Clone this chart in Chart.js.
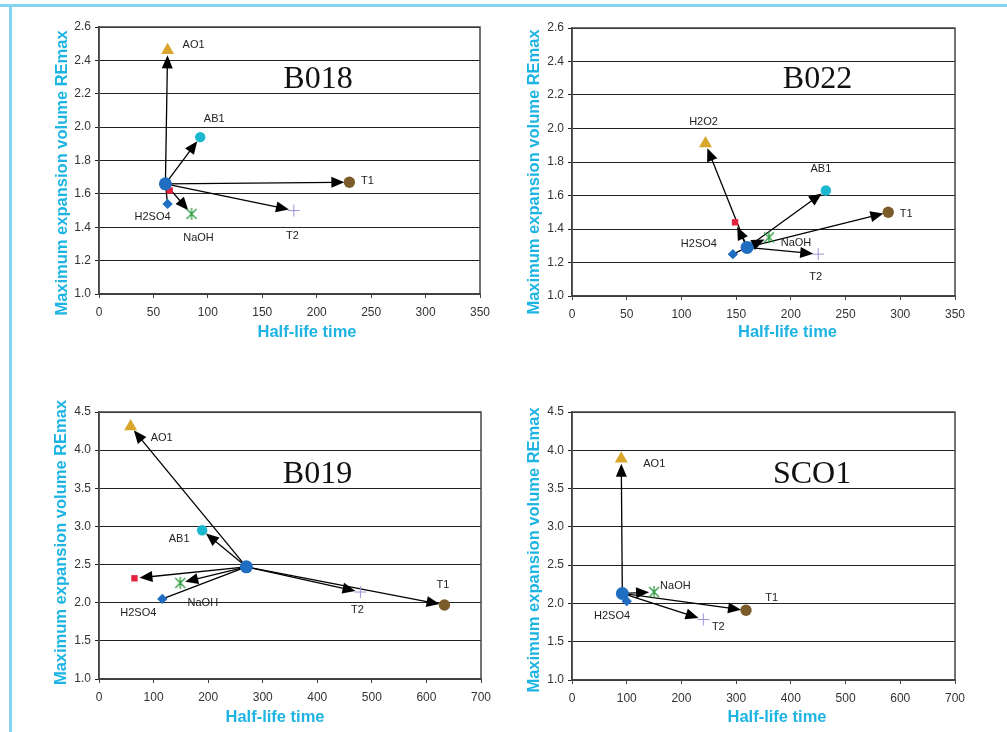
<!DOCTYPE html>
<html>
<head>
<meta charset="utf-8">
<script src="https://cdn.jsdelivr.net/npm/chart.js@4.4.1/dist/chart.umd.min.js"></script>
<style>
  body { margin: 0; background: #fff; width: 1007px; height: 732px; position: relative; overflow: hidden; }
  .panel { position: absolute; }
  #topLine { position: absolute; left: 0; top: 4px; width: 1007px; height: 3px; background: #86d3f0; }
  #leftLine { position: absolute; left: 9px; top: 4px; width: 3px; height: 728px; background: #86d3f0; }
</style>
</head>
<body>
<div id="topLine"></div>
<div id="leftLine"></div>
<canvas id="c1" class="panel" width="504" height="366" style="left:0;top:0"></canvas>
<canvas id="c2" class="panel" width="503" height="366" style="left:504px;top:0"></canvas>
<canvas id="c3" class="panel" width="504" height="366" style="left:0;top:366px"></canvas>
<canvas id="c4" class="panel" width="503" height="366" style="left:504px;top:366px"></canvas>
<script>
// Treatments, same order in every panel:
// untreated, oxidation (AO1 / H2O2), red square, AB1, T1, T2, NaOH, H2SO4
const treatments = ['untreated', 'oxid', 'red', 'AB1', 'T1', 'T2', 'NaOH', 'H2SO4'];

// B018
const b018X = [61, 63, 65, 93, 230, 179, 85, 63];
const b018Y = [1.66, 2.46, 1.62, 1.94, 1.67, 1.50, 1.48, 1.54];
const b018Labels = ['', 'AO1', '', 'AB1', 'T1', 'T2', 'NaOH', 'H2SO4'];
const b018Arrows = [0, 2, 0, 2, 2, 2, 2, 1];   // 0 none, 1 plain line, 2 arrow

// B022
const b022X = [160, 122, 149, 232, 289, 225, 180, 147];
const b022Y = [1.29, 1.91, 1.44, 1.63, 1.50, 1.25, 1.35, 1.25];
const b022Labels = ['', 'H2O2', '', 'AB1', 'T1', 'T2', 'NaOH', 'H2SO4'];
const b022Arrows = [0, 2, 2, 2, 2, 2, 2, 1];

// B019
const b019X = [270, 58, 65, 189, 633, 479, 149, 116];
const b019Y = [2.47, 4.31, 2.32, 2.95, 1.97, 2.14, 2.26, 2.05];
const b019Labels = ['', 'AO1', '', 'AB1', 'T1', 'T2', 'NaOH', 'H2SO4'];
const b019Arrows = [0, 2, 2, 2, 2, 2, 2, 1];

// SCO1
const sco1X = [92, 90, null, null, 318, 240, 150, 100];
const sco1Y = [2.13, 3.89, null, null, 1.91, 1.79, 2.15, 2.03];
const sco1Labels = ['', 'AO1', '', '', 'T1', 'T2', 'NaOH', 'H2SO4'];
const sco1Arrows = [0, 2, 0, 0, 2, 2, 2, 0];

// tick labels
const xTicksTop = [0, 50, 100, 150, 200, 250, 300, 350];
const yTicksTop = [1.0, 1.2, 1.4, 1.6, 1.8, 2.0, 2.2, 2.4, 2.6];
const xTicksBottom = [0, 100, 200, 300, 400, 500, 600, 700];
const yTicksBottom = [1.0, 1.5, 2.0, 2.5, 3.0, 3.5, 4.0, 4.5];

const xTitle = 'Half-life time';
const yTitle = 'Maximum expansion volume REmax';

// asterisk marker for NaOH
function makeStar() {
    const c = document.createElement('canvas');
    c.width = 14; c.height = 14;
    const g = c.getContext('2d');
    g.strokeStyle = '#2f9a40';
    g.lineWidth = 1.3;
    g.beginPath();
    g.moveTo(2, 2); g.lineTo(12, 12);
    g.moveTo(12, 2); g.lineTo(2, 12);
    g.moveTo(7, 1); g.lineTo(7, 13);
    g.stroke();
    return c;
}

const markerStyles = [
    { pointStyle: 'circle', pointRadius: 6.5, backgroundColor: '#1f6ec1', borderWidth: 0 },
    { pointStyle: 'triangle', pointRadius: 7.5, backgroundColor: '#d8a72c', borderWidth: 0 },
    { pointStyle: 'rect', pointRadius: 4.5, backgroundColor: '#e3223d', borderWidth: 0 },
    { pointStyle: 'circle', pointRadius: 5.2, backgroundColor: '#1bb7cf', borderWidth: 0 },
    { pointStyle: 'circle', pointRadius: 5.7, backgroundColor: '#7b5b2a', borderWidth: 0 },
    { pointStyle: 'cross', pointRadius: 6, borderColor: '#9d95d8', borderWidth: 1 },
    { pointStyle: makeStar(), pointRadius: 7 },
    { pointStyle: 'rectRot', pointRadius: 5.2, backgroundColor: '#1f6ec1', borderWidth: 0 }
];

const panels = [
    { id: 'c1', name: 'B018', xs: b018X, ys: b018Y, labels: b018Labels, arrows: b018Arrows,
      xTicks: xTicksTop, yTicks: yTicksTop, pad: { top: 27, right: 24 }, yWidth: 99, xHeight: 72,
      namePos: [318, 88], yTitlePos: [62, 173], xTitlePos: [307, 332],
      offsets: [null, [26, -5], null, [14, -18.5], [18, -1.7], [-1.5, 25.5], [7, 24.5], [-15, 13]] },
    { id: 'c2', name: 'B022', xs: b022X, ys: b022Y, labels: b022Labels, arrows: b022Arrows,
      xTicks: xTicksTop, yTicks: yTicksTop, pad: { top: 28, right: 52 }, yWidth: 68, xHeight: 70,
      namePos: [313.5, 88], yTitlePos: [30, 172], xTitlePos: [283.5, 332],
      offsets: [null, [-2, -22], null, [-5, -22], [18, 1.5], [-2.5, 22.5], [27, 5.5], [-34, -10]] },
    { id: 'c3', name: 'B019', xs: b019X, ys: b019Y, labels: b019Labels, arrows: b019Arrows,
      xTicks: xTicksBottom, yTicks: yTicksBottom, pad: { top: 46, right: 23 }, yWidth: 99, xHeight: 53,
      namePos: [317.5, 116.7], yTitlePos: [61.5, 176.5], xTitlePos: [275, 351.5],
      offsets: [null, [31, 11], null, [-23, 8.5], [-1.5, -20], [-3, 17.7], [22.5, 20], [-24, 14.5]] },
    { id: 'c4', name: 'SCO1', xs: sco1X, ys: sco1Y, labels: sco1Labels, arrows: sco1Arrows,
      xTicks: xTicksBottom, yTicks: yTicksBottom, pad: { top: 46, right: 52 }, yWidth: 68, xHeight: 52,
      namePos: [308, 116.7], yTitlePos: [30, 184], xTitlePos: [273, 351.5],
      offsets: [null, [33, 5.3], null, null, [25.7, -12], [15, 7], [21.3, -6.3], [-14.7, 15]] }
];

function drawArrow(ctx, x0, y0, x1, y1, withHead) {
    const dx = x1 - x0, dy = y1 - y0;
    const len = Math.hypot(dx, dy);
    const ux = dx / len, uy = dy / len;
    const gap = withHead ? 5 : 3;
    const tx = x1 - ux * gap, ty = y1 - uy * gap;
    const L = 13, W = 11;
    ctx.beginPath();
    ctx.moveTo(x0, y0);
    ctx.lineTo(withHead ? tx - ux * L * 0.6 : tx, withHead ? ty - uy * L * 0.6 : ty);
    ctx.stroke();
    if (withHead) {
        const bx = tx - ux * L, by = ty - uy * L;
        ctx.beginPath();
        ctx.moveTo(tx, ty);
        ctx.lineTo(bx - uy * W / 2, by + ux * W / 2);
        ctx.lineTo(bx + uy * W / 2, by - ux * W / 2);
        ctx.closePath();
        ctx.fill();
    }
}

function makeOverlay(p) {
    return {
        id: 'overlay',
        beforeDatasetsDraw(chart) {
            const ctx = chart.ctx, a = chart.chartArea;
            const sx = chart.scales.x, sy = chart.scales.y;
            ctx.save();
            // plot frame
            ctx.strokeStyle = '#444';
            ctx.lineWidth = 1.5;
            ctx.strokeRect(a.left, a.top, a.right - a.left, a.bottom - a.top);
            // arrows from the untreated sample
            const x0 = sx.getPixelForValue(p.xs[0]), y0 = sy.getPixelForValue(p.ys[0]);
            ctx.strokeStyle = '#000';
            ctx.fillStyle = '#000';
            ctx.lineWidth = 1.3;
            p.arrows.forEach((kind, i) => {
                if (!kind || p.xs[i] == null) return;
                drawArrow(ctx, x0, y0, sx.getPixelForValue(p.xs[i]), sy.getPixelForValue(p.ys[i]), kind === 2);
            });
            ctx.restore();
        },
        afterDraw(chart) {
            const ctx = chart.ctx;
            const sx = chart.scales.x, sy = chart.scales.y;
            ctx.save();
            // point labels
            ctx.fillStyle = '#222';
            ctx.font = '11px "Liberation Sans", Arial, sans-serif';
            ctx.textAlign = 'center';
            ctx.textBaseline = 'middle';
            p.labels.forEach((lab, i) => {
                if (!lab || p.xs[i] == null) return;
                const o = p.offsets[i];
                ctx.fillText(lab, sx.getPixelForValue(p.xs[i]) + o[0], sy.getPixelForValue(p.ys[i]) + o[1]);
            });
            // sample name
            ctx.fillStyle = '#111';
            ctx.font = '32px "Liberation Serif", "Times New Roman", serif';
            ctx.textBaseline = 'alphabetic';
            ctx.fillText(p.name, p.namePos[0], p.namePos[1]);
            // axis titles
            ctx.fillStyle = '#1db4e4';
            ctx.font = 'bold 16.5px "Liberation Sans", Arial, sans-serif';
            ctx.textBaseline = 'middle';
            ctx.fillText(xTitle, p.xTitlePos[0], p.xTitlePos[1]);
            ctx.translate(p.yTitlePos[0], p.yTitlePos[1]);
            ctx.rotate(-Math.PI / 2);
            ctx.fillText(yTitle, 0, 0);
            ctx.restore();
        }
    };
}

const tickFont = { family: '"Liberation Sans", Arial, sans-serif', size: 12 };

panels.forEach(p => {
    const datasets = [];
    treatments.forEach((t, i) => {
        if (p.xs[i] == null) return;
        datasets.push(Object.assign({
            label: t,
            data: [{ x: p.xs[i], y: p.ys[i] }],
            showLine: false
        }, markerStyles[i]));
    });

    new Chart(document.getElementById(p.id), {
        type: 'scatter',
        data: { datasets: datasets },
        options: {
            responsive: false,
            animation: false,
            layout: { padding: { left: 0, top: p.pad.top, right: p.pad.right, bottom: 0 } },
            plugins: { legend: { display: false }, tooltip: { enabled: false } },
            scales: {
                x: {
                    min: p.xTicks[0],
                    max: p.xTicks[p.xTicks.length - 1],
                    afterBuildTicks: s => { s.ticks = p.xTicks.map(v => ({ value: v })); },
                    afterFit: s => { s.height = p.xHeight; },
                    grid: { drawOnChartArea: false, tickLength: 4, color: '#444' },
                    border: { color: '#444', width: 1.5 },
                    ticks: { font: tickFont, color: '#333', padding: 7, maxRotation: 0, autoSkip: false }
                },
                y: {
                    min: p.yTicks[0],
                    max: p.yTicks[p.yTicks.length - 1],
                    afterBuildTicks: s => { s.ticks = p.yTicks.map(v => ({ value: v })); },
                    afterFit: s => { s.width = p.yWidth; },
                    grid: { tickLength: 4, color: '#222', lineWidth: 1 },
                    border: { color: '#444', width: 1.5 },
                    ticks: { font: tickFont, color: '#333', padding: 4, autoSkip: false,
                             callback: v => Number(v).toFixed(1) }
                }
            }
        },
        plugins: [makeOverlay(p)]
    });
});
</script>
</body>
</html>
